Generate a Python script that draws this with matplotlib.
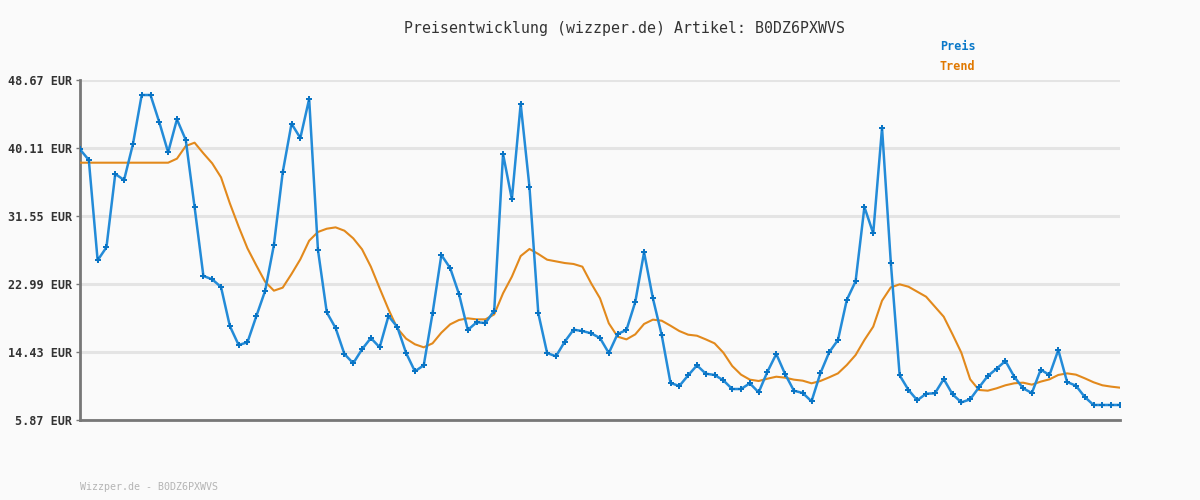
import matplotlib.pyplot as plt

TITLE = 'Preisentwicklung (wizzper.de) Artikel: B0DZ6PXWVS'
FOOTER = 'Wizzper.de - B0DZ6PXWVS'
YTICKS = [5.87, 14.43, 22.99, 31.55, 40.11, 48.67]
YTICK_LABELS = ['5.87 EUR', '14.43 EUR', '22.99 EUR', '31.55 EUR', '40.11 EUR', '48.67 EUR']

preis = [
    39.94, 38.60, 25.97, 27.61, 36.84, 36.08, 40.57, 46.78, 46.78, 43.34,
    39.57, 43.72, 41.12, 32.68, 24.00, 23.58, 22.61, 17.70, 15.31, 15.65,
    18.92, 22.11, 27.90, 37.05, 43.17, 41.37, 46.28, 27.27, 19.42, 17.45,
    14.18, 13.01, 14.77, 16.19, 15.02, 18.96, 17.58, 14.30, 12.00, 12.75,
    19.30, 26.64, 25.00, 21.73, 17.20, 18.17, 18.08, 19.63, 39.35, 33.65,
    45.65, 35.16, 19.30, 14.30, 13.89, 15.73, 17.24, 17.07, 16.78, 16.19,
    14.30, 16.70, 17.20, 20.72, 26.98, 21.19, 16.57, 10.53, 10.15, 11.49,
    12.75, 11.70, 11.54, 10.86, 9.77, 9.77, 10.49, 9.35, 11.95, 14.18,
    11.66, 9.56, 9.27, 8.22, 11.74, 14.39, 15.94, 20.98, 23.33, 32.68,
    29.37, 42.63, 25.63, 11.49, 9.65, 8.35, 9.18, 9.23, 11.03, 9.10,
    8.09, 8.47, 9.98, 11.41, 12.33, 13.30, 11.32, 9.86, 9.27, 12.20,
    11.54, 14.68, 10.65, 10.19, 8.77, 7.76, 7.76, 7.76, 7.76,
]

trend = [
    38.26, 38.26, 38.26, 38.26, 38.26, 38.26, 38.26, 38.26, 38.26, 38.26,
    38.26, 38.77, 40.36, 40.78, 39.44, 38.18, 36.42, 33.15, 30.21, 27.48,
    25.34, 23.28, 22.15, 22.53, 24.25, 26.10, 28.44, 29.54, 29.95, 30.12,
    29.70, 28.74, 27.36, 25.17, 22.45, 19.80, 17.41, 16.11, 15.40, 15.02,
    15.52, 16.86, 17.91, 18.46, 18.67, 18.54, 18.54, 19.17, 21.82, 23.91,
    26.51, 27.40, 26.77, 26.05, 25.84, 25.63, 25.51, 25.17, 23.07, 21.19,
    18.04, 16.36, 16.02, 16.65, 17.96, 18.50, 18.37, 17.74, 17.07, 16.61,
    16.48, 16.02, 15.52, 14.34, 12.67, 11.58, 10.95, 10.78, 11.07, 11.32,
    11.20, 10.95, 10.82, 10.49, 10.78, 11.24, 11.74, 12.79, 14.05, 15.94,
    17.62, 20.89, 22.57, 22.95, 22.65, 22.02, 21.39, 20.13, 18.87, 16.65,
    14.34, 10.99, 9.65, 9.56, 9.86, 10.24, 10.49, 10.57, 10.32, 10.70,
    10.99, 11.54, 11.74, 11.58, 11.12, 10.62, 10.24, 10.07, 9.94,
]

BG = '#fafafa'
BLUE = '#238bd8'
ORANGE = '#e2891c'
MONO = 'DejaVu Sans Mono'

fig = plt.figure(figsize=(12, 5), dpi=100, facecolor=BG)
ax = fig.add_axes([80 / 1200, 0.16, 1040 / 1200, 0.68], facecolor=BG)

xs = list(range(len(preis)))
ax.plot(xs, trend, color=ORANGE, lw=1.5, zorder=3)
ax.plot(xs, preis, color=BLUE, lw=1.8, marker='P', ms=4.2, mew=0,
        mfc='#0a74c4', zorder=4)

ax.set_xlim(0, len(preis) - 1)
ax.set_ylim(YTICKS[0], YTICKS[-1])
ax.set_yticks(YTICKS)
ax.set_yticklabels(YTICK_LABELS, fontfamily=MONO, fontweight='bold',
                   fontsize=8.5, color='#333333')
ax.set_xticks([])
ax.tick_params(axis='y', length=3, width=1, color='#777777', pad=3)
ax.grid(axis='y', color='#e4e4e4', lw=2.2, zorder=0)

for s in ['top', 'right']:
    ax.spines[s].set_visible(False)
for s in ['left', 'bottom']:
    ax.spines[s].set_color('#777777')
    ax.spines[s].set_linewidth(2)

fig.text(624 / 1200, 1 - 28 / 500, TITLE, ha='center', va='center',
         fontfamily=MONO, fontsize=10.7, color='#333333')
fig.text(940 / 1200, 1 - 47 / 500, 'Preis', ha='left', va='center',
         fontfamily=MONO, fontweight='bold', fontsize=8.5, color='#0a78c8')
fig.text(940 / 1200, 1 - 67 / 500, 'Trend', ha='left', va='center',
         fontfamily=MONO, fontweight='bold', fontsize=8.5, color='#e07800')
fig.text(80 / 1200, 1 - 487 / 500, FOOTER, ha='left', va='center',
         fontfamily=MONO, fontsize=7.2, color='#b4b4b4')

fig.savefig('out.png', dpi=100, facecolor=BG)
